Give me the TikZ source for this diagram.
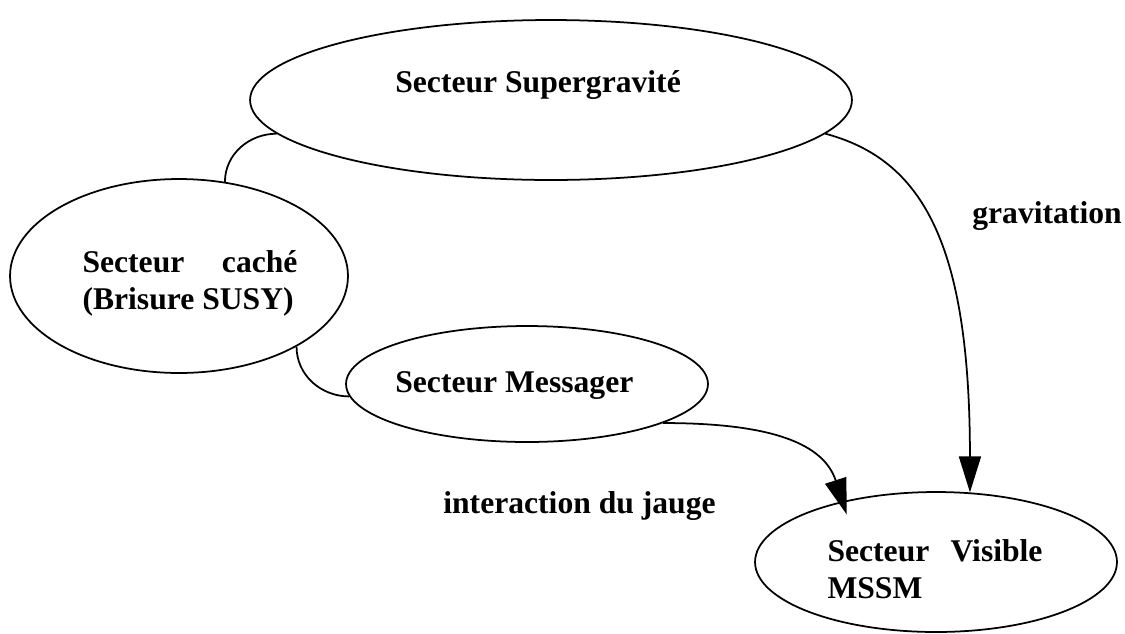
\documentclass[tikz,border=0pt]{standalone}
\usepackage{fontspec}
\setmainfont{Liberation Serif}
\usetikzlibrary{shapes.geometric}
\usetikzlibrary{arrows.meta}
\tikzset{
  % an ellipse for one sector: width / height
  sector/.style 2 args={
    draw=black, ellipse, line width=1pt, inner sep=0pt,
    minimum width=#1, minimum height=#2},
  % bold label text
  lbl/.style={font=\fontsize{18}{21}\selectfont\bfseries, inner sep=0pt},
  % a justified two-line block inside a sector
  blk/.style={lbl, text width=4.3cm, align=justify},
  % plain joins between sectors
  link/.style={draw=black, line width=1pt},
  % interactions, with a big filled head
  flow/.style={draw=black, line width=1pt, -{Triangle[length=0.72cm,width=0.44cm]}},
}

\begin{document}
\begin{tikzpicture}[x=0.02cm, y=-0.02cm]
\useasboundingbox (0,0) rectangle (1125,633);

\node[sector={12.04cm}{3.2cm}] (sugra) at (551,100) {};
\node[sector={6.76cm}{3.88cm}] (cache) at (179,276) {};
\node[sector={7.24cm}{2.32cm}] (mess) at (527,384) {};
\node[sector={7.24cm}{2.8cm}] (vis) at (936,562) {};

\node[lbl, anchor=base west] (sugratxt) at (395,92) {Secteur Supergravité};
\node[blk] (cachetxt) at (190,283) {Secteur caché (Brisure SUSY)};
\node[lbl, anchor=base west] (messtxt) at (395,392) {Secteur Messager};
\node[blk] (vistxt) at (935,569) {Secteur Visible MSSM};

\draw[link] (cache.64) to[out=90,in=180] (sugra.187);
\draw[link] (cache.-31) to[out=-90,in=180] (mess.184);

\draw[flow] (sugra.-7) to[out=-15,in=90,out distance=2cm,in distance=5cm] (vis.64);
\draw[flow, shorten >=-0.28cm] (mess.-16) to[out=0,in=108,out distance=2.2cm,in distance=1.2cm] (vis.147);

\node[lbl, anchor=base west] (grav) at (972,223) {gravitation};
\node[lbl, anchor=base west] (jauge) at (443,513) {interaction du jauge};
\end{tikzpicture}
\end{document}
